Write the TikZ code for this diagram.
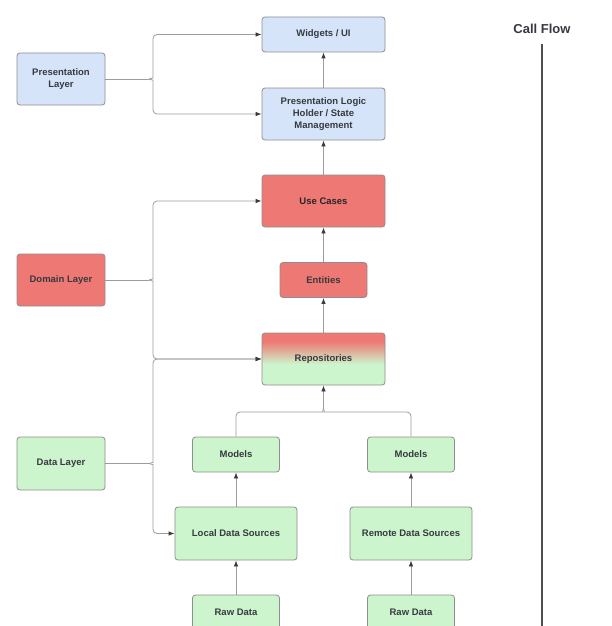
\documentclass[tikz,border=0pt]{standalone}
\usepackage{fontspec}
\setmainfont{Liberation Sans}
\usetikzlibrary{arrows.meta}
\definecolor{pblue}{HTML}{D6E4FA}
\definecolor{dred}{HTML}{EE7873}
\definecolor{dgreen}{HTML}{CDF5CD}
\definecolor{txt}{HTML}{363A40}
\definecolor{edgec}{HTML}{8E8E8E}
\definecolor{lne}{HTML}{9C9C9C}
\definecolor{tipc}{HTML}{3A3A3A}
\pgfdeclareverticalshading{reposhade}{100bp}{color(0bp)=(dgreen); color(45bp)=(dgreen); color(67bp)=(dred); color(100bp)=(dred)}
\tikzset{
  box/.style={rounded corners=3pt, draw=edgec, line width=0.8pt, text=txt,
    font=\bfseries\fontsize{9.5}{12.3}\selectfont, align=center, inner sep=0pt},
  bluebox/.style={box, fill=pblue},
  redbox/.style={box, fill=dred},
  greenbox/.style={box, fill=dgreen},
  wide/.style={minimum width=123pt, minimum height=52pt},
  small/.style={minimum width=87pt, minimum height=35pt},
  side/.style={minimum width=88pt, minimum height=52pt},
  plain/.style={draw=lne, line width=0.8pt},
  conn/.style={plain, -{Latex[length=6pt,width=4.5pt,color=tipc]}},
  flow/.style={draw=tipc!90, line width=1.8pt}
}
\begin{document}
\begin{tikzpicture}[x=1pt,y=-1pt]
\useasboundingbox (0,0) rectangle (612,626);
\clip (0,0) rectangle (612,626);
\fill[white] (0,0) rectangle (612,626);
% column nodes
\node[bluebox, minimum width=123pt, minimum height=35pt] (wid) at (323.5,34.5) {Widgets / UI};
\node[bluebox, wide] (plh) at (323.5,114) {Presentation Logic\\Holder / State\\Management};
\node[redbox, wide, text=black!85] (uc) at (323.5,201) {Use Cases};
\node[redbox, small] (ent) at (323.5,280) {Entities};
\node[box, wide, shading=reposhade, shade] (repo) at (323.5,359) {Repositories};
\node[greenbox, small] (m1) at (236,454.5) {Models};
\node[greenbox, small] (m2) at (411,454.5) {Models};
\node[greenbox, minimum width=122pt, minimum height=53pt] (lds) at (236,533.5) {Local Data Sources};
\node[greenbox, minimum width=122pt, minimum height=53pt] (rds) at (411,533.5) {Remote Data Sources};
\node[greenbox, small] (rd1) at (236,612.5) {Raw Data};
\node[greenbox, small] (rd2) at (411,612.5) {Raw Data};
% side nodes
\node[bluebox, side] (pl) at (61,79) {Presentation\\Layer};
\node[redbox, side] (dl) at (61,280) {Domain Layer};
\node[greenbox, side, minimum height=53pt] (dal) at (61,463.5) {Data Layer};
% call flow
\node[text=txt, font=\bfseries\fontsize{13}{15}\selectfont] (cf) at (542,29) {Call Flow};
\coordinate (cftop) at (542,44);
\coordinate (cfbot) at (542,630);
\draw[flow] (cftop) -- (cfbot);
% vertical arrows
\draw[conn] (plh.north) -- (wid.south);
\draw[conn] (uc.north) -- (plh.south);
\draw[conn] (ent.north) -- (uc.south);
\draw[conn] (repo.north) -- (ent.south);
\draw[conn] (lds.north) -- (m1.south);
\draw[conn] (rds.north) -- (m2.south);
\draw[conn] (rd1.north) -- (lds.south);
\draw[conn] (rd2.north) -- (rds.south);
% presentation brace
\coordinate (pt) at (149,79);
\draw[plain] (pl.east) -- (pt);
\draw[conn, rounded corners=4pt] (pt) .. controls (152,79) and (153,77) .. (153,74) |- (wid.west);
\draw[conn, rounded corners=4pt] (pt) .. controls (152,79) and (153,81) .. (153,84) |- (plh.west);
% domain brace
\coordinate (dt) at (149,280);
\draw[plain] (dl.east) -- (dt);
\draw[conn, rounded corners=4pt] (dt) .. controls (152,280) and (153,278) .. (153,275) |- (uc.west);
\draw[conn, rounded corners=4pt] (dt) .. controls (152,280) and (153,282) .. (153,285) |- (repo.west);
% data brace
\coordinate (at) at (149,463.5);
\draw[plain] (dal.east) -- (at);
\draw[conn, rounded corners=4pt] (at) .. controls (152,463.5) and (153,461.5) .. (153,458.5) |- (repo.west);
\draw[conn, rounded corners=4pt] (at) .. controls (152,463.5) and (153,465.5) .. (153,468.5) |- (lds.west);
% models join
\coordinate (mt) at (323.5,408);
\draw[plain, rounded corners=4pt] (m1.north) |- (319,412) .. controls (322,412) and (323.5,411) .. (mt);
\draw[plain, rounded corners=4pt] (m2.north) |- (328,412) .. controls (325,412) and (323.5,411) .. (mt);
\draw[conn] (mt) -- (repo.south);
\end{tikzpicture}
\end{document}
